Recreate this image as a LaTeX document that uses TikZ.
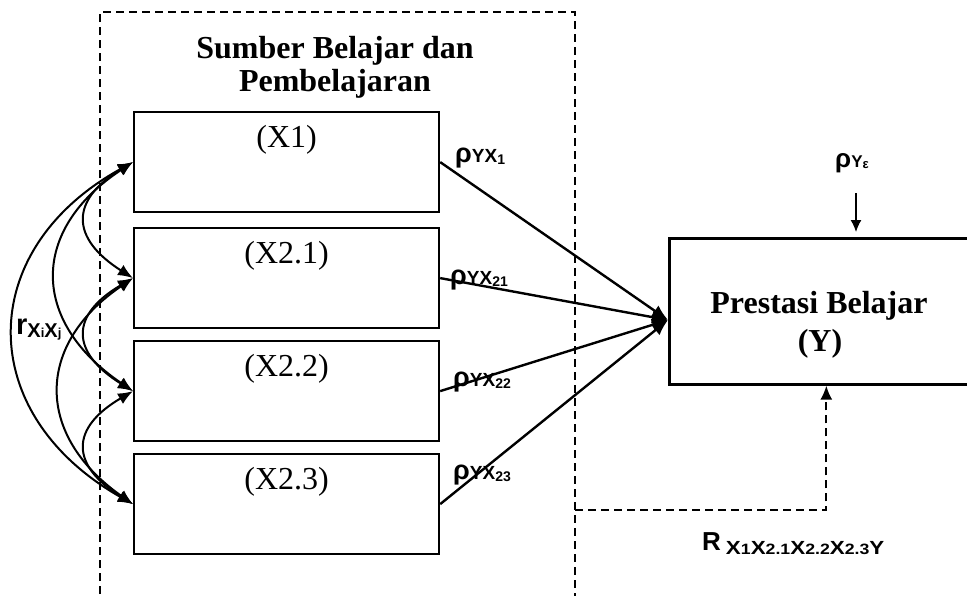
\documentclass[tikz,border=0pt]{standalone}
\usepackage{fontspec}
\usepackage{graphicx}
\setmainfont{Liberation Serif}
\newfontfamily\arial{Liberation Sans}
\usetikzlibrary{arrows.meta}

% small helpers for the coefficient labels
\newcommand\fs[2]{{\fontsize{#1}{#1}\selectfont #2}}
\newcommand\rholab[2]{{\arial\bfseries\fs{27}{ρ}\fs{19}{#1}\raisebox{-2pt}{\fs{14}{#2}}}}

\begin{document}
\begin{tikzpicture}[x=1pt,y=-1pt,
  varbox/.style={draw, line width=2.2pt, minimum width=305pt, minimum height=100pt,
                 inner sep=0pt, anchor=north west},
  boxtext/.style={font=\fontsize{32}{32}\selectfont},
  bigtext/.style={font=\bfseries\fontsize{32}{32}\selectfont},
  grpline/.style={line width=2pt, dash pattern=on 8pt off 5pt},
  pathline/.style={line width=2.4pt, -{Latex[length=16pt,width=13pt]}},
  corr/.style={line width=2pt, {Latex[length=15pt,width=12pt]}-{Latex[length=15pt,width=12pt]}},
  coef/.style={inner sep=0pt, anchor=base west}
]
\useasboundingbox (0,0) rectangle (967,595);

% dashed frame of the exogenous group
\draw[grpline] (100,620) |- (575,12) -- (575,620);
\coordinate (rstart) at (575,510);

% title
\node[bigtext, anchor=base] (t1) at (335,58) {Sumber Belajar dan};
\node[bigtext, anchor=base] (t2) at (335,91) {Pembelajaran};

% exogenous variables
\node[varbox] (x1)  at (133,111) {};
\node[varbox] (x21) at (133,227) {};
\node[varbox] (x22) at (133,340) {};
\node[varbox] (x23) at (133,453) {};
\node[boxtext] (l1)  at ([yshift=-29pt]x1.north)  {(X1)};
\node[boxtext] (l21) at ([yshift=-29pt]x21.north) {(X2.1)};
\node[boxtext] (l22) at ([yshift=-29pt]x22.north) {(X2.2)};
\node[boxtext] (l23) at ([yshift=-29pt]x23.north) {(X2.3)};

% endogenous variable
\node[draw, line width=2.6pt, minimum width=314pt, minimum height=146pt, inner sep=0pt,
      anchor=north west] (y) at (668,237) {};
\node[bigtext, anchor=base] (ly1) at (819,313) {Prestasi Belajar};
\node[bigtext, anchor=base] (ly2) at (820,351) {(Y)};
\coordinate (yin) at (668,320);

% direct paths
\draw[pathline] (x1.east)  -- (yin);
\draw[pathline] (x21.east) -- (yin);
\draw[pathline] (x22.east) -- (yin);
\draw[pathline] (x23.east) -- (yin);

\node[coef] (p1)  at (455,162) {\rholab{YX}{1}};
\node[coef] (p21) at (450,284) {\rholab{YX}{21}};
\node[coef] (p22) at (453,386) {\rholab{YX}{22}};
\node[coef] (p23) at (453,479) {\rholab{YX}{23}};

% correlations among the exogenous variables
\draw[corr] (x1.west)  .. controls (70,200) and (70,238) .. (x21.west);
\draw[corr] (x21.west) .. controls (70,315) and (70,352) .. (x22.west);
\draw[corr] (x22.west) .. controls (70,428) and (70,465) .. (x23.west);
\draw[corr] (x1.west)  .. controls (30,230) and (30,321) .. (x22.west);
\draw[corr] (x21.west) .. controls (35,345) and (35,435) .. (x23.west);
\draw[corr] (x1.west)  .. controls (-26,250) and (-26,414) .. (x23.west);
\node[coef] (r) at (16,334) {\arial\bfseries\fs{29}{r}\raisebox{-3pt}{\fs{20}{X\fs{13}{i}X\fs{13}{j}}}};

% residual
\node[coef] (pe) at (835,167) {\arial\bfseries\fs{26}{ρ}\fs{17}{Y}\raisebox{-1pt}{\fs{13}{ε}}};
\coordinate (e) at (856,193);
\draw[line width=1.4pt, -{Latex[length=12pt,width=11pt]}, shorten >=5pt] (e) -- (e |- y.north);

% multiple correlation
\draw[grpline, -{Latex[length=14pt,width=12pt]}] (rstart) -| (y.south);
\node[coef] (rm) at (702,550) {\arial\bfseries\fs{26}{R}\hspace{5pt}\raisebox{-4pt}{\scalebox{1.18}[1]{\fs{19}{X\fs{15}{1}X\fs{15}{2.1}X\fs{15}{2.2}X\fs{15}{2.3}Y}}}};
\end{tikzpicture}
\end{document}
